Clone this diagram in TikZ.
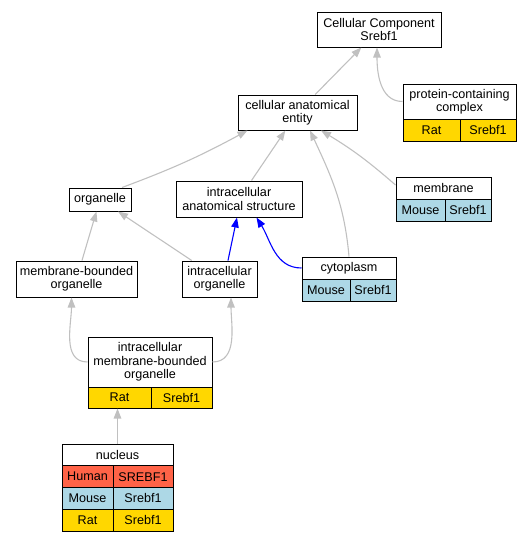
\documentclass[tikz,border=0pt]{standalone}
\usepackage{fontspec}
\setmainfont{Liberation Sans}
\usepackage{tikz}
\usetikzlibrary{arrows.meta, calc, positioning}

\definecolor{edgegray}{HTML}{C0C0C0}
\definecolor{ratgold}{HTML}{FFD700}
\definecolor{mouseblue}{HTML}{ADD8E6}
\definecolor{humanred}{HTML}{FF6347}

\begin{document}
\begin{tikzpicture}[x=1pt, y=1pt,
        term/.style={draw, line width=1pt, inner sep=0pt, align=center,
            font=\fontsize{12.6}{13.4}\selectfont},
        cell/.style={term, minimum height=22pt},
        isa/.style={draw=edgegray, line width=1.1pt, -{Triangle[length=10pt,width=7.5pt]}},
        partof/.style={draw=blue, line width=1.1pt, -{Triangle[length=10pt,width=7.5pt]}}]
                    \useasboundingbox (0,0) rectangle (531,-541);

                    % top terms
                    \node[term, minimum width=124pt, minimum height=35pt] (cc) at (379,-29.5) {Cellular Component\\Srebf1};
                    \node[term, minimum width=119pt, minimum height=35pt] (cae) at (297.5,-112.5) {cellular anatomical\\entity};
                    \node[term, minimum width=113pt, minimum height=35pt] (pc) at (459.5,-101.5) {protein-containing\\complex};
                    \node[cell, fill=ratgold, minimum width=57pt] (pc-sp) at (431.5,-130) {Rat};
                    \node[cell, fill=ratgold, minimum width=56pt] (pc-g) at (488,-130) {Srebf1};

                    % middle terms
                    \node[term, minimum width=62pt, minimum height=23pt] (org) at (100,-199.5) {organelle};
                    \node[term, minimum width=126pt, minimum height=36pt] (ias) at (239,-199) {intracellular\\anatomical structure};
                    \node[cell, minimum width=95pt] (mem) at (443.5,-188) {membrane};
                    \node[cell, fill=mouseblue, minimum width=49pt] (mem-sp) at (420.5,-210) {Mouse};
                    \node[cell, fill=mouseblue, minimum width=46pt] (mem-g) at (468,-210) {Srebf1};

                    \node[term, minimum width=121pt, minimum height=36pt] (mbo) at (76.5,-279) {membrane-bounded\\organelle};
                    \node[term, minimum width=75pt, minimum height=36pt] (io) at (219.5,-279) {intracellular\\organelle};
                    \node[cell, minimum width=94pt] (cyto) at (349,-268) {cytoplasm};
                    \node[cell, fill=mouseblue, minimum width=48pt] (cyto-sp) at (326,-290) {Mouse};
                    \node[cell, fill=mouseblue, minimum width=46pt] (cyto-g) at (373,-290) {Srebf1};

                    % bottom terms
                    \node[term, minimum width=124pt, minimum height=50pt] (imbo) at (150,-362) {intracellular\\membrane-bounded\\organelle};
                    \node[cell, fill=ratgold, minimum width=63pt, minimum height=21pt] (imbo-sp) at (119.5,-397.5) {Rat};
                    \node[cell, fill=ratgold, minimum width=61pt, minimum height=21pt] (imbo-g) at (181.5,-397.5) {Srebf1};

                    \node[cell, minimum width=111pt] (nuc) at (117.5,-455) {nucleus};
                    \foreach \sp/\gn/\col [count=\i] in {Human/SREBF1/humanred, Mouse/Srebf1/mouseblue, Rat/Srebf1/ratgold} {
                        \node[cell, fill=\col, minimum width=51pt] (nuc-sp\i) at (87.5,-455-21.67*\i) {\sp};
                        \node[cell, fill=\col, minimum width=60pt] (nuc-g\i) at (143,-455-21.67*\i) {\gn};
                    }

                    % is_a edges
                    \draw[isa] (cae) -- (cc);
                    \draw[isa] (pc.west) to[out=180, in=-90] ($(cc.south)+(-2,0)$);
                    \draw[isa] ($(org.north)+(22,0)$) to[bend right=4] ($(cae.south)+(-50,0)$);
                    \draw[isa] (ias) -- (cae);
                    \draw[isa] (cyto.north) to[out=95, in=-65] ($(cae.south)+(12.5,0)$);
                    \draw[isa] ($(mem.west)+(0,3)$) to[bend right=5] ($(cae.south)+(23.5,0)$);
                    \draw[isa] (mbo) -- (org);
                    \draw[isa] (io) -- (org);
                    \draw[isa] (imbo.west) to[out=180, in=-90] ($(mbo.south)+(-5,0)$);
                    \draw[isa] (imbo.east) to[out=0, in=-90] ($(io.south)+(11.5,0)$);
                    \draw[isa] (nuc.north) -- (nuc.north |- imbo-sp.south);

                    % part_of edges
                    \draw[partof] ($(io.north)+(8.5,0)$) -- ($(ias.south)+(-2,0)$);
                    \draw[partof] (cyto.west) to[out=180, in=-58] ($(ias.south)+(17.5,0)$);
                \end{tikzpicture}
\end{document}
